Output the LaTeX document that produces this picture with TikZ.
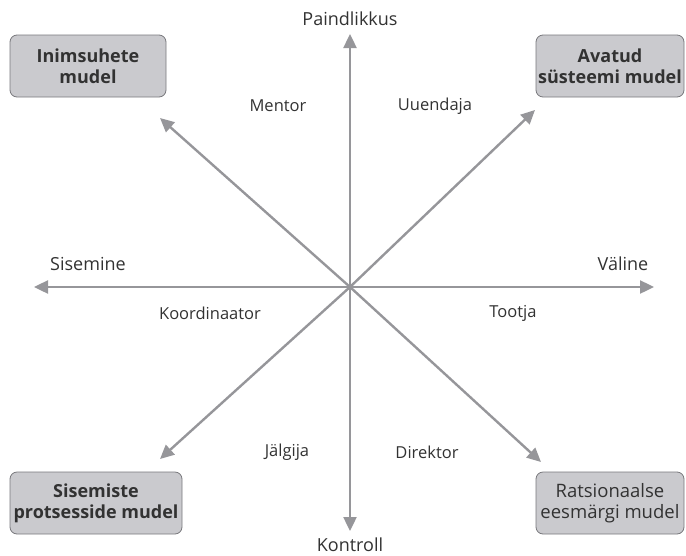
\documentclass[tikz,border=0pt]{standalone}
\usepackage{fontspec}
\setmainfont{Open Sans}
\usetikzlibrary{arrows.meta}
\definecolor{axisgray}{RGB}{150,150,154}
\definecolor{boxgray}{RGB}{202,202,206}
\definecolor{boxline}{RGB}{120,120,124}
\definecolor{inkgray}{RGB}{50,50,50}
\tikzset{>={Triangle[length=14pt,width=13pt]},
	axis/.style={draw=axisgray,line width=2.4pt,->},
	model/.style={draw=boxline,fill=boxgray,rounded corners=7pt,line width=0.8pt,align=center,inner sep=0pt,text=inkgray,font=\fontsize{18}{21}\selectfont},
	role/.style={font=\fontsize{16.5}{20}\selectfont,text=inkgray},
	pole/.style={font=\fontsize{18}{22}\selectfont,text=inkgray}}
\begin{document}
\begin{tikzpicture}[x=1pt,y=-1pt]
			\useasboundingbox (0,0) rectangle (686,555);
			\coordinate (C) at (350,287);
			\coordinate (N) at (350,34);
			\coordinate (S) at (350,531);
			\coordinate (W) at (34,287);
			\coordinate (E) at (654,287);
			\coordinate (NW) at (160,118);
			\coordinate (NE) at (535,110);
			\coordinate (SW) at (160,459);
			\coordinate (SE) at (541,462);
			\draw[axis](C)--(N);
			\draw[axis](C)--(S);
			\draw[axis](C)--(W);
			\draw[axis](C)--(E);
			\draw[axis](C)--(NW);
			\draw[axis](C)--(NE);
			\draw[axis](C)--(SW);
			\draw[axis](C)--(SE);
			\node[pole] (flex) at (350,19) {Paindlikkus};
			\node[pole] (ctrl) at (350,545) {Kontroll};
			\node[pole] (inner) at (88,264) {Sisemine};
			\node[pole] (outer) at (623,264) {Väline};
			\node[role] (mentor) at (278,106) {Mentor};
			\node[role] (innov) at (435,106) {Uuendaja};
			\node[role] (coord) at (210,313) {Koordinaator};
			\node[role] (prod) at (513,313) {Tootja};
			\node[role] (monit) at (287,452) {Jälgija};
			\node[role] (direct) at (427,452) {Direktor};
			\node[model,minimum width=156pt,minimum height=62pt] (human) at (88,66) {\bfseries Inimsuhete\\\bfseries mudel};
			\node[model,minimum width=148pt,minimum height=62pt] (open) at (610,66) {\bfseries Avatud\\\bfseries süsteemi mudel};
			\node[model,minimum width=172pt,minimum height=62pt] (process) at (96,503) {\bfseries Sisemiste\\\bfseries protsesside mudel};
			\node[model,minimum width=148pt,minimum height=62pt,font=\fontsize{18.5}{21}\selectfont] (goal) at (610,503) {Ratsionaalse\\eesmärgi mudel};
		\end{tikzpicture}
\end{document}
